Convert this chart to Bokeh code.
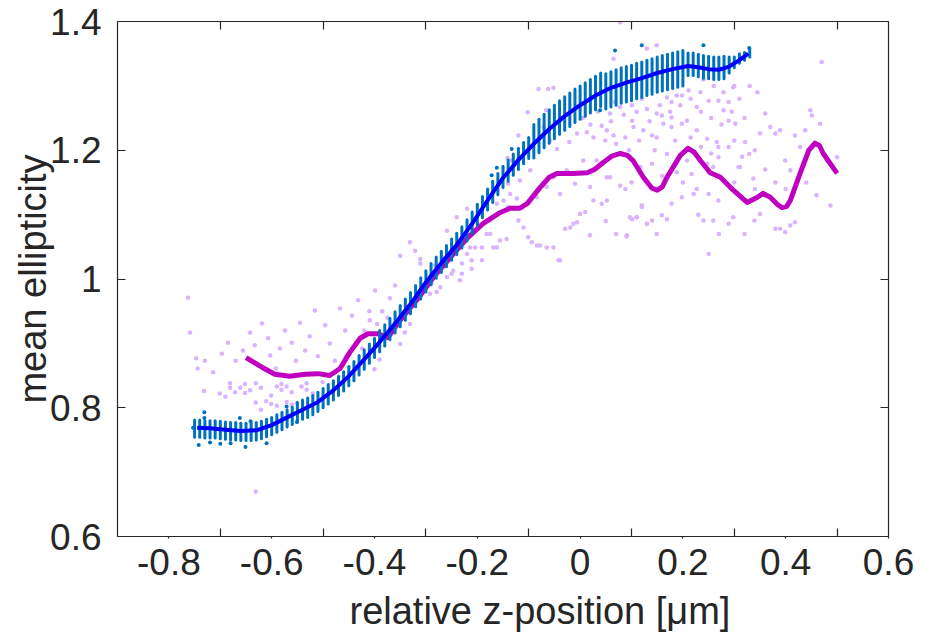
import numpy as np
from bokeh.plotting import figure
from bokeh.models import LinearAxis, FixedTicker, Range1d, Title
from bokeh.embed import file_html
from bokeh.resources import INLINE

# ---------------- data ----------------
X_LABEL_VALUES = [-0.8, -0.6, -0.4, -0.2, 0.0, 0.2, 0.4, 0.6]
X_LABELS = ["-0.8", "-0.6", "-0.4", "-0.2", "0", "0.2", "0.4", "0.6"]
X_TICK_VALUES = [-0.7, -0.5, -0.3, -0.1, 0.1, 0.3, 0.5]
Y_TICK_VALUES = [0.6, 0.8, 1.0, 1.2, 1.4]
Y_LABELS = ["0.6", "0.8", "1", "1.2", "1.4"]
X_TITLE = "relative z-position [μm]"
Y_TITLE = "mean ellipticity"

# blue measurement columns (z position, lowest and highest ellipticity in the column)
COL_X = [-0.75, -0.74, -0.73, -0.72, -0.71, -0.70, -0.69, -0.68, -0.67, -0.66,
         -0.65, -0.64, -0.63, -0.62, -0.61, -0.60, -0.59, -0.58, -0.57, -0.56,
         -0.55, -0.54, -0.53, -0.52, -0.51, -0.50, -0.49, -0.48, -0.47, -0.46,
         -0.45, -0.44, -0.43, -0.42, -0.41, -0.40, -0.39, -0.38, -0.37, -0.36,
         -0.35, -0.34, -0.33, -0.32, -0.31, -0.30, -0.29, -0.28, -0.27, -0.26,
         -0.25, -0.24, -0.23, -0.22, -0.21, -0.20, -0.19, -0.18, -0.17, -0.16,
         -0.15, -0.14, -0.13, -0.12, -0.11, -0.10, -0.09, -0.08, -0.07, -0.06,
         -0.05, -0.04, -0.03, -0.02, -0.01, 0.00, 0.01, 0.02, 0.03, 0.04,
         0.05, 0.06, 0.07, 0.08, 0.09, 0.10, 0.11, 0.12, 0.13, 0.14,
         0.15, 0.16, 0.17, 0.18, 0.19, 0.20, 0.21, 0.22, 0.23, 0.24,
         0.25, 0.26, 0.27, 0.28, 0.29, 0.30, 0.31, 0.32, 0.33]
COL_LO = [0.754, 0.754, 0.753, 0.753, 0.753, 0.752, 0.751, 0.750, 0.750, 0.749,
          0.749, 0.749, 0.750, 0.752, 0.755, 0.758, 0.762, 0.766, 0.770, 0.774,
          0.778, 0.782, 0.785, 0.789, 0.794, 0.800, 0.806, 0.812, 0.819, 0.826,
          0.834, 0.842, 0.851, 0.860, 0.869, 0.878, 0.887, 0.896, 0.906, 0.916,
          0.926, 0.936, 0.946, 0.957, 0.969, 0.980, 0.991, 1.001, 1.010, 1.019,
          1.029, 1.038, 1.048, 1.059, 1.071, 1.083, 1.095, 1.107, 1.119, 1.131,
          1.142, 1.152, 1.161, 1.170, 1.179, 1.187, 1.188, 1.196, 1.204, 1.211,
          1.218, 1.225, 1.231, 1.237, 1.243, 1.248, 1.253, 1.258, 1.263, 1.268,
          1.264, 1.267, 1.270, 1.273, 1.275, 1.277, 1.280, 1.282, 1.285, 1.287,
          1.290, 1.292, 1.294, 1.296, 1.298, 1.300, 1.316, 1.316, 1.314, 1.312,
          1.311, 1.310, 1.310, 1.311, 1.320, 1.328, 1.335, 1.340, 1.345]
COL_HI = [0.781, 0.781, 0.780, 0.780, 0.780, 0.779, 0.778, 0.777, 0.777, 0.776,
          0.776, 0.776, 0.777, 0.779, 0.782, 0.785, 0.789, 0.793, 0.797, 0.801,
          0.808, 0.812, 0.815, 0.819, 0.824, 0.830, 0.836, 0.842, 0.849, 0.856,
          0.864, 0.872, 0.881, 0.890, 0.899, 0.908, 0.920, 0.929, 0.939, 0.949,
          0.959, 0.969, 0.979, 0.990, 1.002, 1.013, 1.024, 1.034, 1.043, 1.052,
          1.062, 1.071, 1.081, 1.092, 1.104, 1.116, 1.128, 1.140, 1.152, 1.164,
          1.175, 1.185, 1.194, 1.203, 1.212, 1.220, 1.240, 1.248, 1.256, 1.263,
          1.270, 1.277, 1.283, 1.289, 1.295, 1.300, 1.305, 1.310, 1.315, 1.320,
          1.319, 1.322, 1.325, 1.328, 1.330, 1.332, 1.335, 1.337, 1.340, 1.342,
          1.345, 1.347, 1.349, 1.351, 1.353, 1.355, 1.351, 1.351, 1.349, 1.347,
          1.346, 1.345, 1.345, 1.346, 1.345, 1.345, 1.350, 1.352, 1.358]

# scattered single blue measurements
BLUE_DOT_X = [-0.753, -0.742, -0.731, -0.731, -0.662, -0.651, -0.641, -0.571, -0.551,
              -0.720, -0.700, -0.680, -0.610, 0.120, 0.240, 0.329, 0.068, 0.039,
              -0.162, -0.172, -0.133]
BLUE_DOT_Y = [0.769, 0.742, 0.793, 0.784, 0.784, 0.739, 0.779, 0.802, 0.778,
              0.746, 0.744, 0.745, 0.745, 1.363, 1.363, 1.359, 1.355, 1.262,
              1.173, 1.161, 1.202]

# smoothed blue curve
BLUE_LINE_X = [-0.745, -0.72, -0.69, -0.66, -0.63, -0.60, -0.57, -0.54, -0.51, -0.48,
               -0.45, -0.42, -0.39, -0.36, -0.33, -0.30, -0.27, -0.24, -0.21, -0.18,
               -0.15, -0.12, -0.09, -0.06, -0.03, 0.00, 0.03, 0.06, 0.09, 0.12,
               0.15, 0.18, 0.21, 0.23, 0.25, 0.27, 0.29, 0.31, 0.327]
BLUE_LINE_Y = [0.769, 0.768, 0.766, 0.764, 0.765, 0.773, 0.785, 0.797, 0.809, 0.827,
               0.849, 0.875, 0.902, 0.931, 0.961, 0.995, 1.025, 1.053, 1.086, 1.122,
               1.157, 1.185, 1.210, 1.233, 1.253, 1.270, 1.285, 1.297, 1.305, 1.312,
               1.320, 1.326, 1.331, 1.329, 1.326, 1.325, 1.330, 1.340, 1.350]

# smoothed magenta curve
MAG_X = [-0.650, -0.619, -0.594, -0.565, -0.535, -0.510, -0.487, -0.467, -0.448, -0.428,
         -0.413, -0.393, -0.374, -0.350, -0.312, -0.286, -0.253, -0.220, -0.189, -0.156,
         -0.136, -0.117, -0.103, -0.078, -0.060, -0.045, -0.014, 0.014, 0.028, 0.045,
         0.062, 0.078, 0.092, 0.103, 0.123, 0.140, 0.150, 0.160, 0.169, 0.195,
         0.210, 0.222, 0.234, 0.253, 0.273, 0.298, 0.325, 0.345, 0.356, 0.370,
         0.385, 0.393, 0.402, 0.409, 0.428, 0.445, 0.457, 0.466, 0.473, 0.500]
MAG_Y = [0.878, 0.863, 0.852, 0.849, 0.852, 0.853, 0.850, 0.861, 0.886, 0.908,
         0.915, 0.915, 0.909, 0.936, 0.973, 1.002, 1.033, 1.063, 1.086, 1.103,
         1.110, 1.110, 1.117, 1.142, 1.158, 1.164, 1.164, 1.165, 1.170, 1.181,
         1.191, 1.195, 1.192, 1.184, 1.158, 1.141, 1.138, 1.143, 1.158, 1.192,
         1.203, 1.197, 1.184, 1.165, 1.158, 1.138, 1.119, 1.127, 1.133, 1.127,
         1.115, 1.111, 1.113, 1.122, 1.164, 1.200, 1.211, 1.207, 1.195, 1.164]

# scattered magenta-series measurements (light purple dots)
PURPLE_X = [
    -0.763, -0.759, -0.747, -0.744, -0.730, -0.714, -0.697, -0.685, -0.670, -0.656,
    -0.642, -0.633, -0.619, -0.607, -0.603, -0.592, -0.584, -0.574, -0.561, -0.553,
    -0.545, -0.535, -0.526, -0.516, -0.510, -0.496, -0.487, -0.477, -0.467, -0.457,
    -0.444, -0.432, -0.424, -0.409, -0.399,
    -0.732, -0.701, -0.690, -0.681, -0.681, -0.671, -0.661, -0.652, -0.652, -0.642,
    -0.631, -0.631, -0.621, -0.621, -0.611, -0.601, -0.601, -0.590, -0.590, -0.581,
    -0.581, -0.571, -0.571, -0.561, -0.561, -0.551, -0.542, -0.532, -0.532, -0.520,
    -0.501, -0.631,
    -0.400, -0.390, -0.385, -0.370, -0.360, -0.375, -0.395, -0.410, -0.420, -0.455,
    -0.331, -0.321, -0.311, -0.311, -0.350, -0.289, -0.272, -0.282, -0.331, -0.341,
    -0.350, -0.324, -0.311, -0.259, -0.247, -0.230, -0.211, -0.191, -0.214, -0.175,
    -0.169, -0.156, -0.110, -0.101, -0.084, -0.065, -0.052, -0.039, -0.029, -0.019,
    -0.006, 0.019, 0.010, 0.052, 0.091, 0.097, 0.110, 0.130, 0.120,
    -0.081, -0.062, -0.052, -0.102, -0.066, -0.120, -0.141, -0.133, -0.149, -0.140,
    -0.120, -0.094, -0.078, -0.042, -0.013, 0.000, 0.026, 0.042, 0.049, -0.117,
    -0.097, -0.084, -0.065, -0.052, -0.039, -0.026, -0.010, 0.006, 0.019, 0.032,
    0.052, -0.006, 0.013, 0.026, 0.042, -0.021, -0.045, -0.058, -0.071, -0.182,
    -0.162, -0.143, -0.204, -0.220, -0.191, -0.211, -0.230, -0.250, -0.234, -0.263,
    -0.269, -0.279, -0.292, -0.259, -0.240, -0.220, -0.162, -0.175, -0.136, -0.123,
    -0.140,
    0.078, 0.149, 0.130, 0.065, 0.068, 0.058, 0.078, 0.101, 0.101, 0.120,
    0.130, 0.149, 0.169, 0.178, 0.188, 0.198, 0.211, 0.234, 0.250, 0.269,
    0.289, 0.279, 0.298, 0.052, 0.065, 0.088, 0.104, 0.123, 0.140, 0.149,
    0.159, 0.162, 0.178, 0.178, 0.198, 0.208, 0.227, 0.227, 0.247, 0.266,
    0.289, 0.269, 0.279, 0.289, 0.302, 0.321, 0.350, 0.360, 0.370, 0.380,
    0.389, 0.418, 0.438, 0.448, 0.451, 0.467, 0.470, 0.500, 0.487, 0.480,
    0.428, 0.399, 0.409, 0.380, 0.389, 0.399, 0.409, 0.418, 0.350, 0.339,
    0.337, 0.329, 0.311, 0.298, 0.289, 0.259, 0.250, 0.240, 0.250, 0.269,
    0.221, 0.227, 0.198, 0.178, 0.169, 0.159, 0.149, 0.140, 0.130, 0.120,
    0.101, 0.090, 0.110, 0.078, 0.088, 0.058, 0.117, 0.140, 0.169, 0.188,
    0.208, 0.188, 0.247, 0.259, 0.308, 0.269, 0.217,
    0.005, 0.020, 0.035, 0.060, 0.085, 0.110, 0.135, 0.155, 0.175, 0.195,
    0.215, 0.235, 0.255, 0.275, 0.295, 0.310, 0.320, 0.240, 0.260, 0.300,
    0.330, 0.345, 0.070, 0.095, 0.115, 0.145, 0.185, 0.215, 0.235, 0.255,
    0.300, 0.315, 0.340, 0.360, 0.380, 0.400, 0.440, 0.460, 0.340, 0.300,
    0.200, 0.160, 0.100, 0.050, 0.070, 0.230, 0.270, 0.320]
PURPLE_Y = [
    0.971, 0.917, 0.877, 0.861, 0.873, 0.855, 0.884, 0.901, 0.873, 0.889,
    0.917, 0.897, 0.931, 0.908, 0.881, 0.861, 0.892, 0.920, 0.901, 0.873,
    0.932, 0.889, 0.911, 0.951, 0.880, 0.928, 0.900, 0.873, 0.954, 0.920,
    0.943, 0.967, 0.892, 0.936, 0.982,
    0.826, 0.822, 0.817, 0.838, 0.831, 0.824, 0.831, 0.837, 0.823, 0.827,
    0.838, 0.808, 0.831, 0.797, 0.810, 0.819, 0.806, 0.833, 0.803, 0.837,
    0.828, 0.833, 0.809, 0.824, 0.805, 0.807, 0.833, 0.838, 0.828, 0.822,
    0.840, 0.670,
    0.860, 0.875, 0.950, 0.970, 0.990, 0.940, 0.930, 0.950, 0.920, 0.880,
    1.057, 1.044, 1.031, 1.024, 1.036, 0.993, 0.987, 1.021, 0.930, 0.917,
    0.899, 0.961, 0.972, 1.003, 1.013, 1.024, 1.029, 1.049, 1.049, 1.070,
    1.049, 1.060, 1.080, 1.065, 1.052, 1.049, 1.049, 1.029, 1.078, 1.080,
    1.088, 1.068, 1.104, 1.122, 1.068, 1.096, 1.096, 1.086, 1.114,
    1.295, 1.295, 1.297, 1.259, 1.262, 1.223, 1.188, 1.184, 1.122, 1.112,
    1.091, 1.057, 1.052, 1.029, 1.086, 1.101, 1.122, 1.117, 1.215, 1.153,
    1.169, 1.127, 1.143, 1.158, 1.132, 1.169, 1.148, 1.184, 1.143, 1.184,
    1.158, 1.226, 1.228, 1.220, 1.238, 1.213, 1.202, 1.215, 1.236, 1.070,
    1.049, 1.062, 1.049, 1.039, 1.029, 1.016, 1.008, 1.008, 0.998, 1.021,
    1.034, 0.980, 0.977, 1.075, 1.096, 1.109, 1.117, 1.091, 1.132, 1.125,
    1.148,
    1.399, 1.363, 1.358, 1.342, 1.275, 1.257, 1.267, 1.270, 1.246, 1.280,
    1.264, 1.257, 1.282, 1.275, 1.285, 1.285, 1.293, 1.290, 1.277, 1.277,
    1.275, 1.290, 1.298, 1.231, 1.223, 1.220, 1.236, 1.231, 1.223, 1.220,
    1.254, 1.241, 1.251, 1.236, 1.241, 1.246, 1.267, 1.231, 1.218, 1.213,
    1.205, 1.205, 1.262, 1.246, 1.241, 1.213, 1.226, 1.257, 1.236, 1.226,
    1.231, 1.223, 1.231, 1.262, 1.254, 1.241, 1.337, 1.189, 1.114, 1.184,
    1.205, 1.184, 1.169, 1.078, 1.078, 1.073, 1.083, 1.088, 1.101, 1.091,
    1.156, 1.194, 1.174, 1.096, 1.086, 1.091, 1.039, 1.091, 1.132, 1.122,
    1.132, 1.140, 1.127, 1.117, 1.093, 1.099, 1.070, 1.091, 1.086, 1.112,
    1.093, 1.066, 1.096, 1.145, 1.140, 1.158, 1.174, 1.179, 1.194, 1.181,
    1.184, 1.166, 1.179, 1.174, 1.174, 1.189, 1.163,
    1.250, 1.240, 1.260, 1.245, 1.255, 1.260, 1.245, 1.270, 1.260, 1.270,
    1.280, 1.260, 1.250, 1.240, 1.260, 1.280, 1.250, 1.310, 1.300, 1.300,
    1.300, 1.290, 1.210, 1.200, 1.215, 1.200, 1.215, 1.220, 1.205, 1.195,
    1.215, 1.190, 1.200, 1.170, 1.150, 1.140, 1.150, 1.130, 1.140, 1.150,
    1.150, 1.160, 1.150, 1.090, 1.070, 1.100, 1.070, 1.070]

# ---------------- styling ----------------
FONT = "Liberation Sans"
AX_COL = "#262626"
TICK_FS = "37px"
LABEL_FS = "38px"

p = figure(frame_width=771, frame_height=515,
           x_range=Range1d(-0.9, 0.6), y_range=Range1d(0.6, 1.4),
           output_backend="svg", toolbar_location=None,
           min_border_left=117, min_border_right=39,
           min_border_top=21, min_border_bottom=105)
p.grid.visible = False
p.outline_line_color = None
p.background_fill_color = "white"
p.border_fill_color = "white"

# glyphs
p.scatter(PURPLE_X, PURPLE_Y, size=4.5, color="#D9B3FF", line_color=None)
p.line(MAG_X, MAG_Y, line_width=5, color="#C000C0", line_join="round")
p.segment(x0=COL_X, y0=COL_LO, x1=COL_X, y1=COL_HI, line_width=3,
          color="#0072BD", line_cap="round")
p.scatter(BLUE_DOT_X, BLUE_DOT_Y, size=4, color="#0072BD", line_color=None)
p.line(BLUE_LINE_X, BLUE_LINE_Y, line_width=4, color="#0000FF", line_join="round")


def style_axis(ax):
    ax.axis_line_color = AX_COL
    ax.axis_line_width = 1.2
    ax.major_tick_line_color = AX_COL
    ax.minor_tick_line_color = AX_COL
    ax.major_tick_line_width = 1.2
    ax.minor_tick_line_width = 1.2
    ax.major_label_text_font = FONT
    ax.major_label_text_color = AX_COL
    ax.major_label_text_font_size = TICK_FS
    ax.axis_label_text_font = FONT
    ax.axis_label_text_color = AX_COL
    ax.axis_label_text_font_size = LABEL_FS
    ax.axis_label_text_font_style = "normal"


# bottom axis: labels at even tenths, inward ticks at odd tenths
xa = p.xaxis[0]
xa.ticker = FixedTicker(ticks=X_LABEL_VALUES, minor_ticks=X_TICK_VALUES)
xa.major_label_overrides = {v: s for v, s in zip(X_LABEL_VALUES, X_LABELS)}
style_axis(xa)
xa.major_tick_in = 0
xa.major_tick_out = 2
xa.minor_tick_in = 8
xa.minor_tick_out = 0
xa.major_label_standoff = 10

# x title: sits below the axis, shifted right as in the reference
p.add_layout(Title(text=X_TITLE, align="left", offset=232, standoff=20,
                   text_font=FONT, text_font_size=LABEL_FS, text_color=AX_COL,
                   text_font_style="normal"), "below")

# top axis (ticks only, no labels)
xt = LinearAxis(ticker=FixedTicker(ticks=[], minor_ticks=X_TICK_VALUES))
style_axis(xt)
xt.major_tick_in = 0
xt.major_tick_out = 0
xt.minor_tick_in = 8
xt.minor_tick_out = 0
xt.major_label_standoff = 0
p.add_layout(xt, "above")

# left axis
ya = p.yaxis[0]
ya.ticker = FixedTicker(ticks=Y_TICK_VALUES, minor_ticks=[])
ya.major_label_overrides = {v: s for v, s in zip(Y_TICK_VALUES, Y_LABELS)}
style_axis(ya)
ya.major_tick_in = 8
ya.major_tick_out = 0
ya.minor_tick_in = 0
ya.minor_tick_out = 0
ya.major_label_standoff = 16
ya.axis_label = Y_TITLE
ya.axis_label_standoff = -7

# right axis (ticks only, no labels)
yr = LinearAxis(ticker=FixedTicker(ticks=[], minor_ticks=Y_TICK_VALUES))
style_axis(yr)
yr.major_tick_in = 0
yr.major_tick_out = 0
yr.minor_tick_in = 8
yr.minor_tick_out = 0
yr.major_label_standoff = 0
p.add_layout(yr, "right")

open("out.html", "w").write(file_html(p, INLINE))
